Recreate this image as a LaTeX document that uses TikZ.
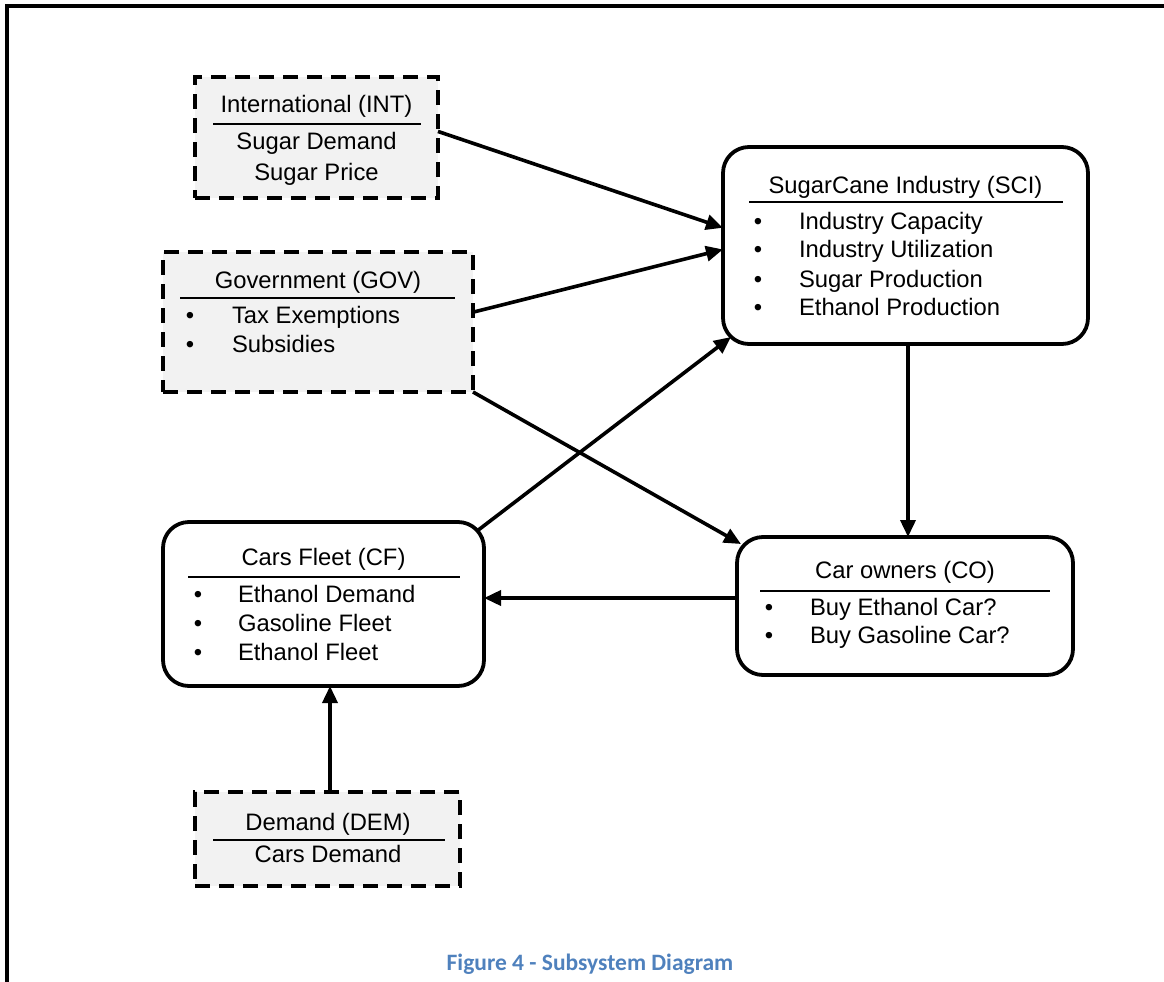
\documentclass[tikz,border=0pt]{standalone}
\usepackage{fontspec}
\setmainfont{Liberation Sans}
\newfontfamily\capfont{Carlito}
\usetikzlibrary{arrows.meta,calc}
\definecolor{boxgray}{HTML}{F2F2F2}
\definecolor{capblue}{HTML}{4F81BD}

\begin{document}
\begin{tikzpicture}[x=1pt,y=-1pt,
  every node/.style={inner sep=0pt, outer sep=0pt},
  extbox/.style={draw, fill=boxgray, line width=4.3pt, dash pattern=on 15pt off 9pt, rectangle},
  subbox/.style={draw, fill=white, line width=3.8pt, rounded corners=26pt, rectangle},
  txt/.style={anchor=base, font=\fontsize{23.8}{29}\selectfont},
  itemtxt/.style={anchor=base west, font=\fontsize{23.8}{29}\selectfont},
  dot/.style={anchor=base, font=\fontsize{23.8}{29}\selectfont},
  rulestroke/.style={line width=2.2pt},
  link/.style={line width=3.6pt, -{Triangle[length=17pt,width=15pt]}},
]
\useasboundingbox (0,0) rectangle (1164,982);

% page frame
\draw[line width=3.2pt] (7,982) -- (7,6) -- (1164,6);

% ---------- external boxes (dashed) ----------
\node[extbox, minimum width=243pt, minimum height=121pt] (int) at (316.5,137.5) {};
\node[txt] (intT) at (316.5,112) {International (INT)};
\draw[rulestroke] (213,124) -- (421,124);
\node[txt] (int1) at (316.5,149) {Sugar Demand};
\node[txt] (int2) at (316.5,180) {Sugar Price};

\node[extbox, minimum width=310pt, minimum height=140pt] (gov) at (318,322) {};
\node[txt] (govT) at (318,288) {Government (GOV)};
\draw[rulestroke] (180,298) -- (455,298);
\node[dot] (govb1) at (190,323) {\textbullet};
\node[itemtxt] (gov1) at (232,323) {Tax Exemptions};
\node[dot] (govb2) at (190,352) {\textbullet};
\node[itemtxt] (gov2) at (232,352) {Subsidies};

\node[extbox, minimum width=265pt, minimum height=94pt] (dem) at (327.5,839) {};
\node[txt] (demT) at (328,830) {Demand (DEM)};
\draw[rulestroke] (213,840) -- (445,840);
\node[txt] (dem1) at (328,862) {Cars Demand};

% ---------- subsystem boxes (rounded) ----------
\node[subbox, minimum width=365pt, minimum height=197pt] (sci) at (905.5,245.5) {};
\node[txt] (sciT) at (905.5,193) {SugarCane Industry (SCI)};
\draw[rulestroke] (749,202) -- (1063,202);
\foreach \y/\t [count=\i] in {229/Industry Capacity, 257/Industry Utilization, 287/Sugar Production, 315/Ethanol Production}{
  \node[dot] (scib\i) at (758,\y) {\textbullet};
  \node[itemtxt] (sci\i) at (799,\y) {\t};
}

\node[subbox, minimum width=321pt, minimum height=164pt] (cf) at (323.5,604) {};
\node[txt] (cfT) at (323.5,565) {Cars Fleet (CF)};
\draw[rulestroke] (188,577) -- (460,577);
\foreach \y/\t [count=\i] in {602/Ethanol Demand, 631/Gasoline Fleet, 660/Ethanol Fleet}{
  \node[dot] (cfb\i) at (198,\y) {\textbullet};
  \node[itemtxt] (cf\i) at (238,\y) {\t};
}

\node[subbox, minimum width=336pt, minimum height=138pt] (co) at (905,606) {};
\node[txt] (coT) at (905,578) {Car owners (CO)};
\draw[rulestroke] (760,591) -- (1050,591);
\foreach \y/\t [count=\i] in {615/Buy Ethanol Car?, 643/Buy Gasoline Car?}{
  \node[dot] (cob\i) at (769,\y) {\textbullet};
  \node[itemtxt] (co\i) at (810,\y) {\t};
}

% ---------- connectors ----------
\draw[link] ($(int.north east)!0.45!(int.south east)$) -- ($(sci.north west)!0.41!(sci.south west)$);
\draw[link] ($(gov.north east)!0.43!(gov.south east)$) -- ($(sci.north west)!0.52!(sci.south west)$);
\draw[link] ($(cf.north east)+(-7,9)$) -- ($(sci.south west)+(8,-7)$);
\draw[link] (gov.south east) -- ($(co.north west)+(4,7)$);
\draw[link] ($(sci.south)+(2.5,0)$) -- ($(co.north)+(3,0)$);
\draw[link] ($(co.west)+(0,-8)$) -- ($(cf.east)+(0,-6)$);
\draw[link] ($(dem.north)+(2.5,0)$) -- ($(cf.south)+(6.5,0)$);

% caption
\node[anchor=base, font=\capfont\bfseries\fontsize{23.5}{28}\selectfont, text=capblue] (caption) at (590,970) {Figure 4 - Subsystem Diagram};
\end{tikzpicture}
\end{document}
